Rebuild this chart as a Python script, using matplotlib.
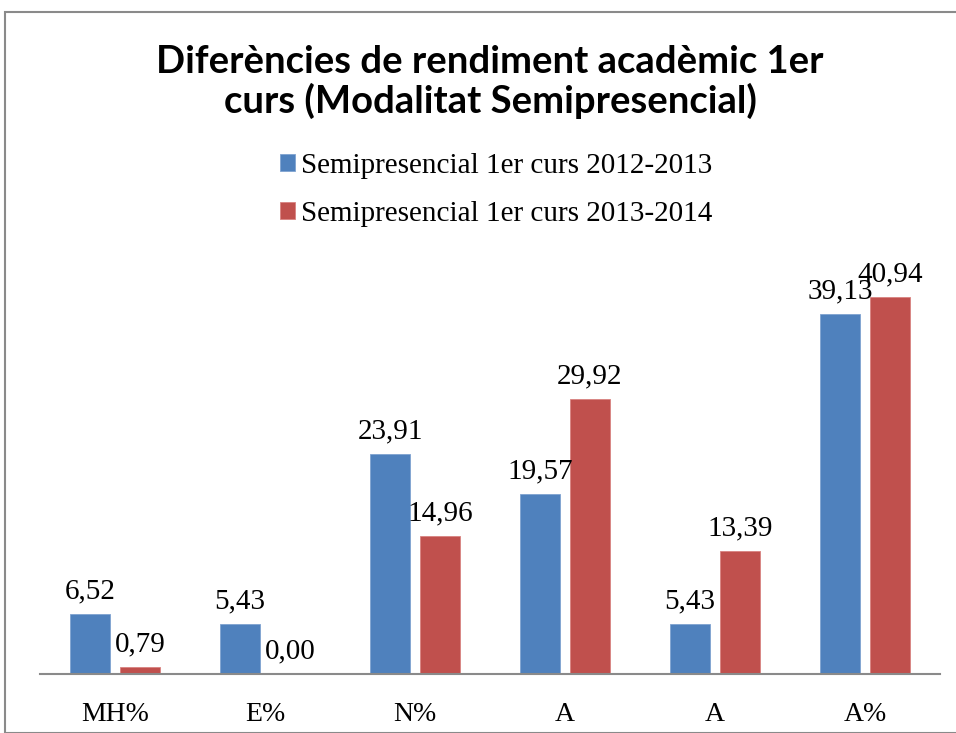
import matplotlib
matplotlib.use("Agg")
import matplotlib.pyplot as plt
from matplotlib.patches import Rectangle
import numpy as np

categories = ["MH%", "E%", "N%", "A", "A", "A%"]
series_names = ["Semipresencial 1er curs 2012-2013", "Semipresencial 1er curs 2013-2014"]
values_2012 = [6.52, 5.43, 23.91, 19.57, 5.43, 39.13]
values_2013 = [0.79, 0.00, 14.96, 29.92, 13.39, 40.94]
colors = ["#4F81BD", "#C0504D"]

W, H = 956, 733
fig = plt.figure(figsize=(W / 100, H / 100), dpi=100)

SERIF = "Liberation Serif"

# chart border
fig.patches.append(Rectangle((5 / W, 0), 1.2, (H - 12) / H, transform=fig.transFigure,
                             fill=False, edgecolor="#8a8a8a", lw=1.5, zorder=0))

ax = fig.add_axes([40 / W, (H - 674) / H, 900 / W, 414 / H])
x = np.arange(len(categories))
bw = 0.267
off = 0.166
b1 = ax.bar(x - off, values_2012, bw, color=colors[0], edgecolor="#7fa3d1", lw=0.6, label=series_names[0])
b2 = ax.bar(x + off, values_2013, bw, color=colors[1], edgecolor="#d98280", lw=0.6, label=series_names[1])

ax.set_xlim(-0.5, len(categories) - 0.5)
ax.set_ylim(0, 45)
for s in ["top", "right", "left"]:
    ax.spines[s].set_visible(False)
ax.spines["bottom"].set_color("#8a8a8a")
ax.spines["bottom"].set_linewidth(1.5)
ax.set_yticks([])
ax.set_xticks(x)
ax.set_xticklabels(categories, family=SERIF, fontsize=20)
ax.tick_params(axis="x", length=0, pad=20)

def fmt(v):
    return f"{v:.2f}".replace(".", ",")

for bars, vals in [(b1, values_2012), (b2, values_2013)]:
    for rect, v in zip(bars, vals):
        ax.annotate(fmt(v), (rect.get_x() + rect.get_width() / 2, v),
                    xytext=(0, 7), textcoords="offset points", ha="center", va="bottom",
                    family=SERIF, fontsize=21)

fig.text(490 / W, 1 - 82 / H, "Diferències de rendiment acadèmic 1er\ncurs (Modalitat Semipresencial)",
         ha="center", va="center", family="Lato", weight="bold", fontsize=27.5, linespacing=1.12)

leg = fig.legend(handles=[b1, b2], labels=series_names, loc="center",
                 bbox_to_anchor=(496 / W, 1 - 190 / H), frameon=False,
                 prop={"family": SERIF, "size": 21},
                 handlelength=0.5, handleheight=0.5, handletextpad=0.2, labelspacing=0.75)

fig.savefig("out.png", dpi=100)
